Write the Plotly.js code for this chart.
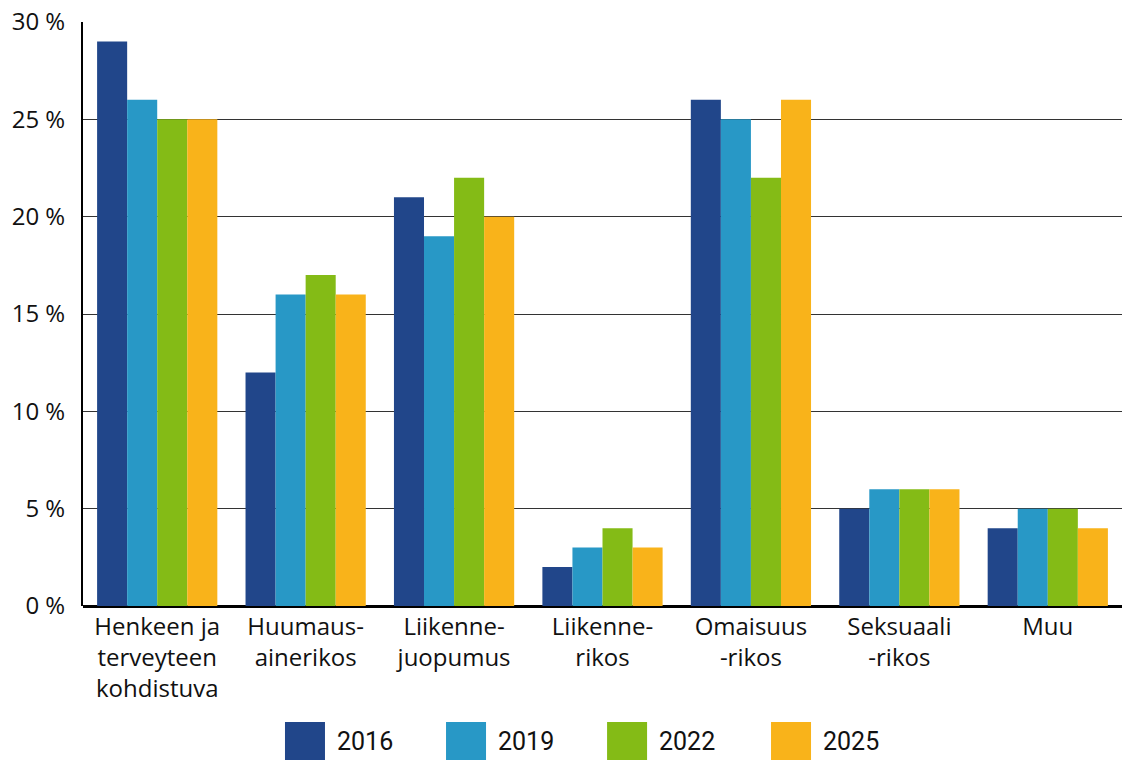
<!DOCTYPE html>
<html><head><meta charset="utf-8">
<script src="https://cdn.plot.ly/plotly-3.0.1.min.js"></script>
<style>html,body{margin:0;padding:0;background:#fff}#c{width:1122px;height:760px}</style>
</head><body><div id="c"></div>
<script>
const categories = ["Henkeen ja<br>terveyteen<br>kohdistuva","Huumaus-<br>ainerikos","Liikenne-<br>juopumus","Liikenne-<br>rikos","Omaisuus<br>-rikos","Seksuaali<br>-rikos","Muu"];
const years = ["2016","2019","2022","2025"];
const v2016 = [29,12,21,2,26,5,4];
const v2019 = [26,16,19,3,25,6,5];
const v2022 = [25,17,22,4,22,6,5];
const v2025 = [25,16,20,3,26,6,4];
const colors = ["#21468A","#2898C6","#84BB16","#F9B31A"];
const series = [v2016,v2019,v2022,v2025];
const yTicks = [0,5,10,15,20,25,30];

const traces = series.map((vals,i)=>({
  type:'bar', x:categories, y:vals, name:years[i],
  marker:{color:colors[i], line:{width:0}},
  hoverinfo:'skip', showlegend:false
}));

// custom legend (large squares) in paper coords
const legX = [0.1944, 0.3494, 0.5044, 0.6622];
const shapes = [], annotations = [];
years.forEach((y,i)=>{
  shapes.push({type:'rect', xref:'paper', yref:'paper',
    x0:legX[i], x1:legX[i]+0.0385, y0:-0.2637, y1:-0.1986,
    fillcolor:colors[i], line:{width:0}});
  annotations.push({xref:'paper', yref:'paper', x:legX[i]+0.0385+0.0100, y:-0.2313,
    xanchor:'left', yanchor:'middle', text:y, showarrow:false,
    font:{family:'"Liberation Sans Narrow", Roboto, sans-serif', size:25, color:'#111'}});
});

const layout = {
  width:1122, height:760,
  margin:{l:83, r:0, t:22, b:154, pad:0},
  paper_bgcolor:'#fff', plot_bgcolor:'#fff',
  barmode:'group', bargap:0.19, bargroupgap:0,
  font:{family:'"Open Sans", Roboto, sans-serif', size:24, color:'#111'},
  xaxis:{type:'category', showgrid:false, showline:false, ticks:'', ticklabelstandoff:4,
    tickfont:{size:24, color:'#111'}, fixedrange:true},
  yaxis:{range:[0,30], tickvals:yTicks, ticktext:yTicks.map(t=>t+' %'),
    showgrid:true, gridcolor:'#333', gridwidth:1,
    zeroline:true, zerolinecolor:'#000', zerolinewidth:3,
    showline:true, linecolor:'#000', linewidth:2,
    ticks:'', ticklabelstandoff:11, tickfont:{size:24, color:'#111'}, fixedrange:true},
  shapes:shapes, annotations:annotations, showlegend:false
};
Plotly.newPlot('c', traces, layout, {displayModeBar:false, staticPlot:true});
</script></body></html>
